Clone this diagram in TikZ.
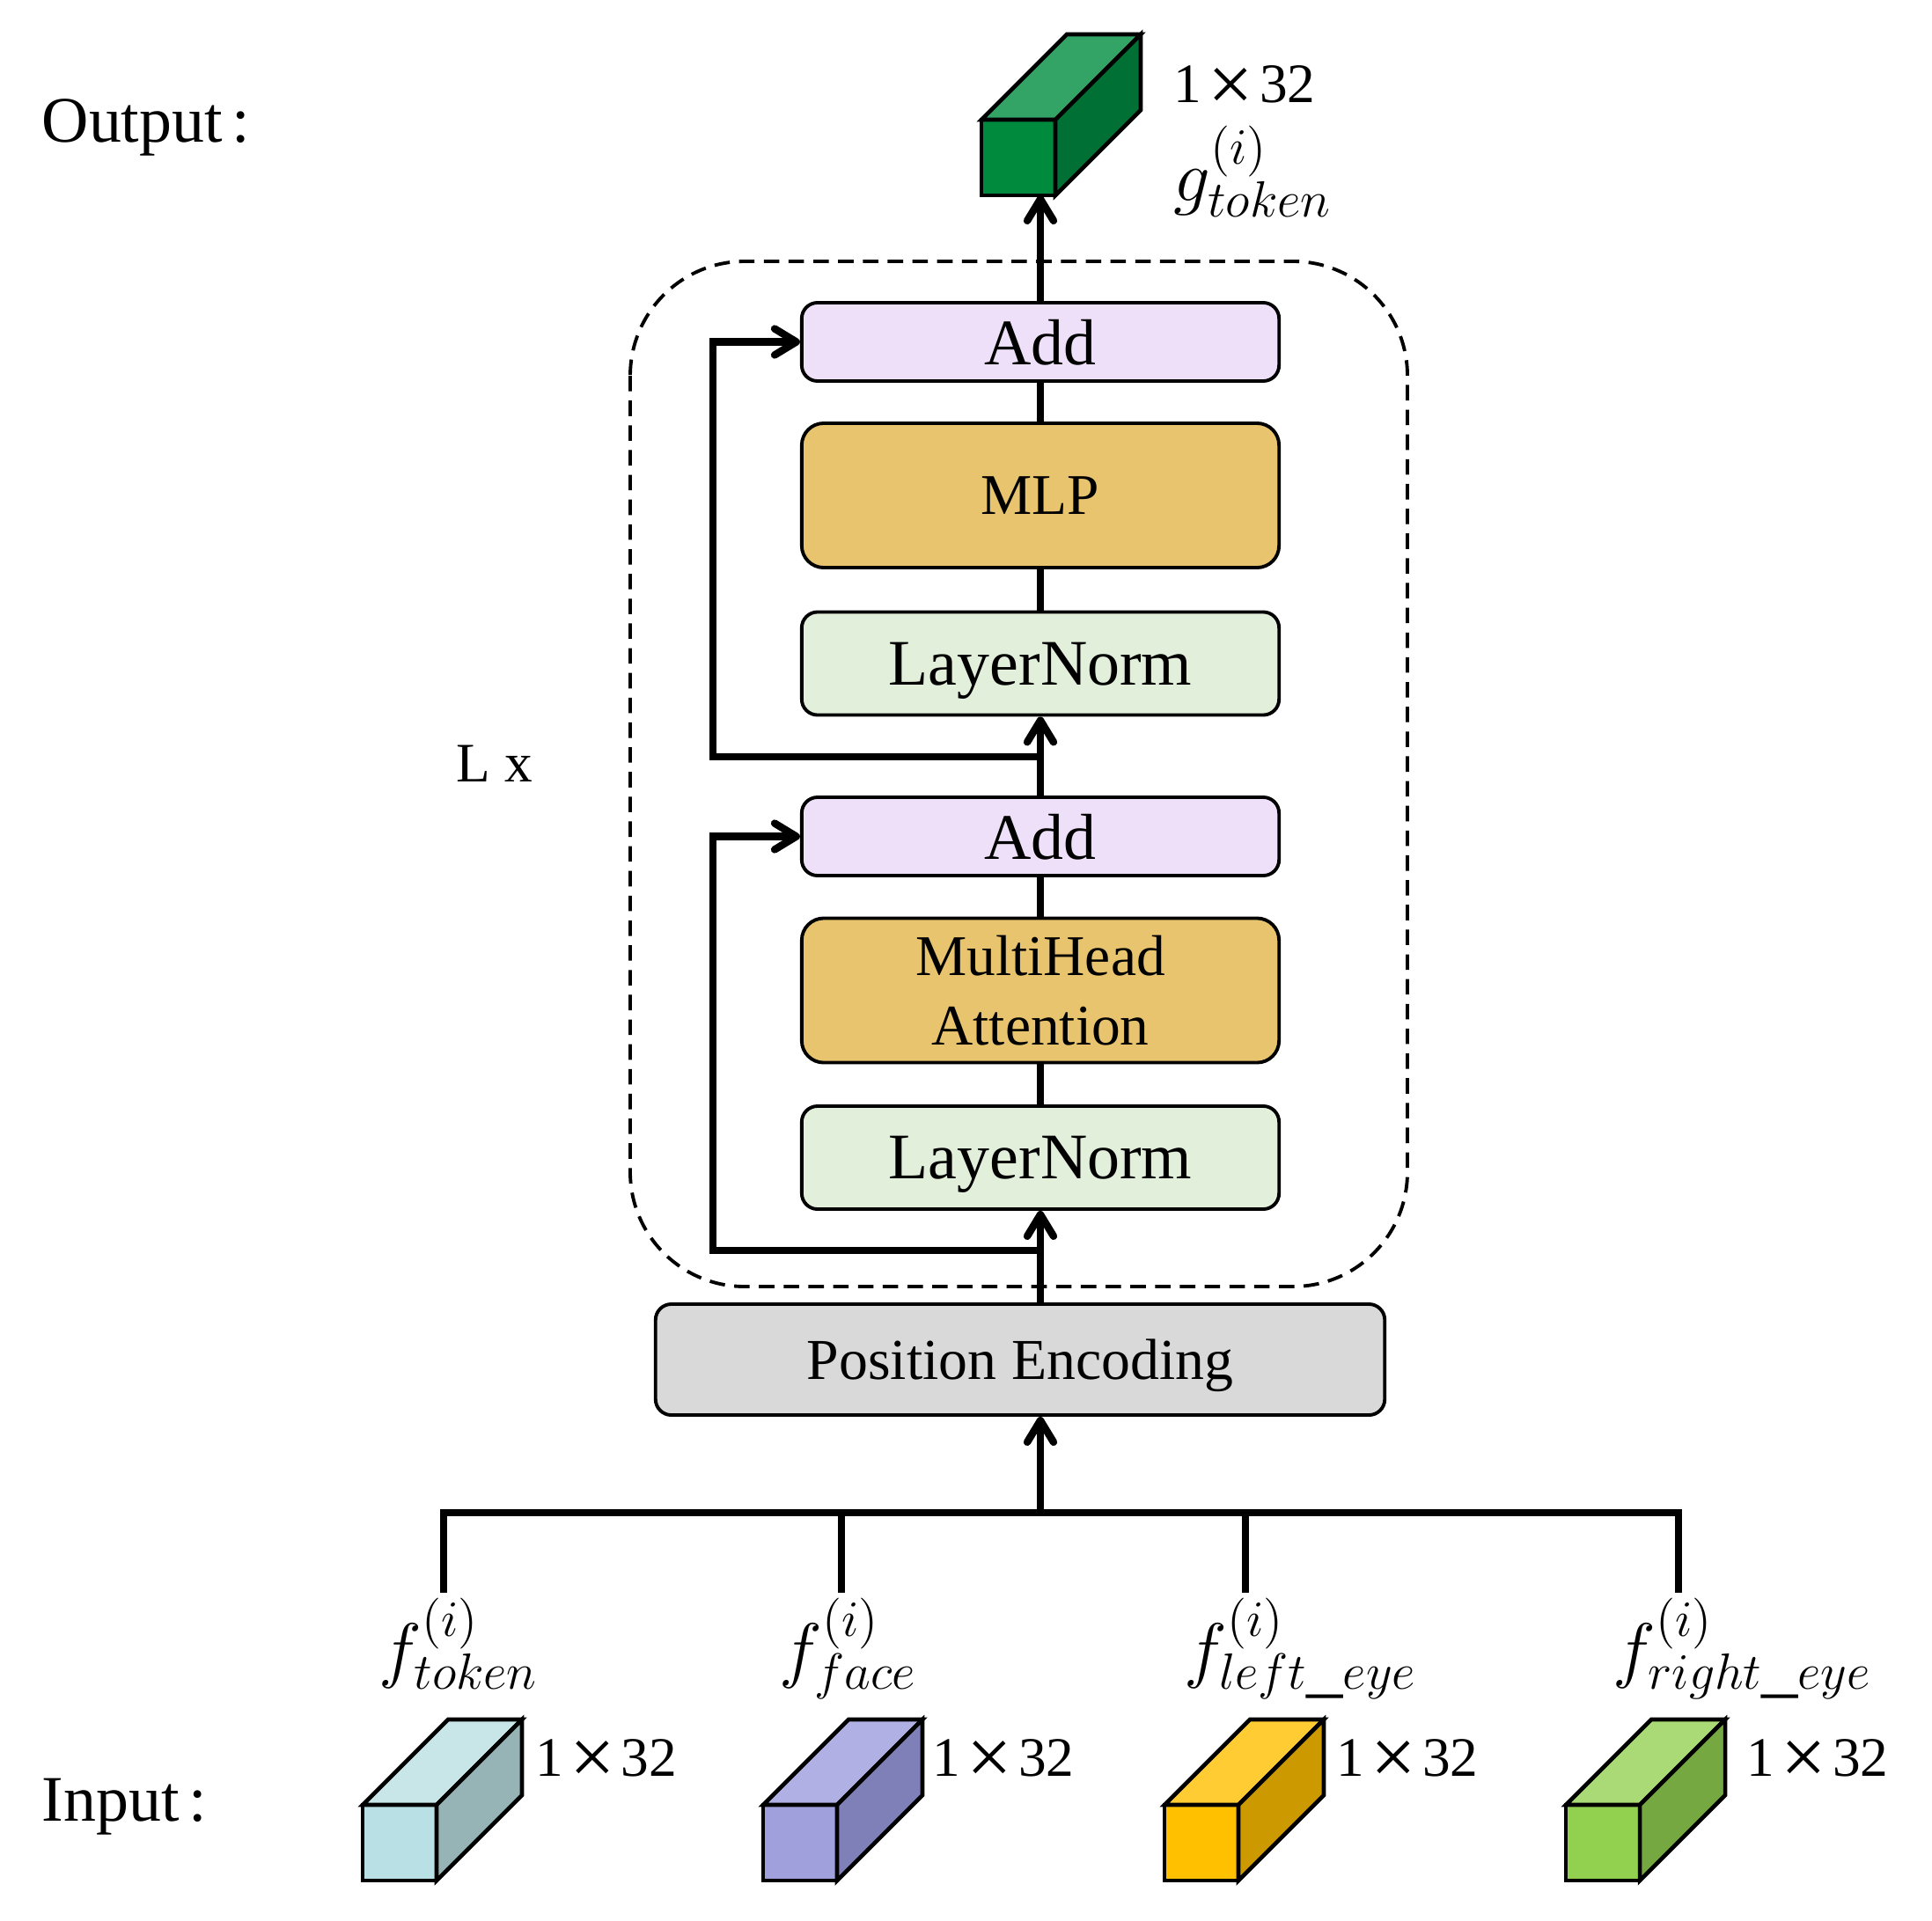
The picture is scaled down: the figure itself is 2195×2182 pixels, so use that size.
\RequirePackage{fix-cm}
\documentclass[tikz,border=0pt]{standalone}
\usepackage{fontspec}
\setmainfont{Liberation Serif}
\usepackage{tikz}
\usetikzlibrary{arrows.meta,positioning,calc}

\definecolor{addcol}{RGB}{238,224,248}
\definecolor{mlpcol}{RGB}{232,196,110}
\definecolor{lncol}{RGB}{226,239,218}
\definecolor{pecol}{RGB}{217,217,217}
\definecolor{outfront}{RGB}{0,138,62}
\definecolor{outtop}{RGB}{52,163,102}
\definecolor{outside}{RGB}{0,112,52}
\definecolor{tokfront}{RGB}{185,224,228}
\definecolor{toktop}{RGB}{200,230,232}
\definecolor{tokside}{RGB}{150,180,182}
\definecolor{facefront}{RGB}{160,160,221}
\definecolor{facetop}{RGB}{176,176,229}
\definecolor{faceside}{RGB}{128,128,184}
\definecolor{lefront}{RGB}{255,192,0}
\definecolor{letop}{RGB}{255,204,51}
\definecolor{leside}{RGB}{204,153,0}
\definecolor{refront}{RGB}{146,208,80}
\definecolor{retop}{RGB}{169,218,117}
\definecolor{reside}{RGB}{117,168,64}

% feature cube: x, y of front face top left, then front/top/side colours
\newcommand{\featcube}[5]{%
  \draw[cubeline,fill=#3] (#1,#2) rectangle ++(84,86);
  \draw[cubeline,fill=#4] (#1,#2) -- ++(97,-97) -- ++(84,0) -- ++(-97,97) -- cycle;
  \draw[cubeline,fill=#5] ({#1+84},#2) -- ++(97,-97) -- ++(0,86) -- ++(-97,97) -- cycle;
}
% 1 x 32 with the wide cross
\newcommand{\featdim}{1\kern2pt\raisebox{-2.6pt}{\fontsize{26}{26}\selectfont ×}\kern2pt32}

\begin{document}
\begin{tikzpicture}[x=0.01cm,y=-0.01cm,
    box/.style={draw,line width=1.1pt,rounded corners=0.18cm,minimum width=5.42cm,inner sep=0pt,text depth=0pt},
    addbox/.style={box,fill=addcol,minimum height=0.89cm,font=\fontsize{21}{25}\selectfont},
    mlpbox/.style={box,fill=mlpcol,minimum height=1.64cm,rounded corners=0.25cm,align=center,font=\fontsize{18.6}{22.5}\selectfont},
    lnbox/.style={box,fill=lncol,minimum height=1.17cm,font=\fontsize{21}{25}\selectfont},
    pebox/.style={box,fill=pecol,minimum width=8.28cm,minimum height=1.26cm,font=\fontsize{18.7}{22}\selectfont},
    link/.style={line width=2.4pt},
    arr/.style={link,-{Straight Barb[length=7pt,width=8.5pt,round]}},
    dashbox/.style={line width=1.1pt,dash pattern=on 5pt off 3pt,rounded corners=1.3cm},
    cubeline/.style={line width=1.3pt,line join=miter},
    dimtext/.style={anchor=base west,inner sep=0pt,font=\fontsize{18}{20}\selectfont},
    symtext/.style={anchor=base west,inner sep=0pt,font=\fontsize{21}{25}\selectfont},
    mathtext/.style={anchor=base west,inner sep=0pt,font=\fontsize{23.5}{27}\selectfont}]
  \useasboundingbox (0,0) rectangle (2195,2182);

  % encoder block
  \draw[dashbox] (716,297) rectangle (1599,1462);
  \node[addbox] (add2) at (1182,388.5) {Add};
  \node[mlpbox] (mlp) at (1182,563) {MLP};
  \node[lnbox] (ln2) at (1182,754) {LayerNorm};
  \node[addbox] (add1) at (1182,950.5) {Add};
  \node[mlpbox] (mha) at (1182,1125.5) {MultiHead\\Attention};
  \node[lnbox] (ln1) at (1182,1315.5) {LayerNorm};
  \node[pebox] (pe) at (1159,1545) {Position Encoding};
  \node[symtext,font=\fontsize{18}{20}\selectfont] (rep) at (518,888) {L x};

  % main path
  \draw[arr] (ln1.south |- pe.north) -- (ln1.south);
  \draw[link] (ln1.north) -- (mha.south);
  \draw[link] (mha.north) -- (add1.south);
  \draw[arr] (add1.north) -- (ln2.south);
  \draw[link] (ln2.north) -- (mlp.south);
  \draw[link] (mlp.north) -- (add2.south);

  % residual connections
  \coordinate (skx) at (810,0);
  \coordinate (sk1) at (1182,1421);
  \coordinate (sk2) at (1182,860);
  \draw[arr] (sk1) -- (sk1 -| skx) |- (add1.west);
  \draw[arr] (sk2) -- (sk2 -| skx) |- (add2.west);

  % output
  \node[symtext] (outlbl) at (47,162) {Output\kern3pt:};
  \featcube{1115}{136}{outfront}{outtop}{outside}
  \coordinate (gout) at (1182,222);
  \draw[arr] (add2.north) -- (gout);
  \node[dimtext] (outdim) at (1333,117) {\featdim};
  \node[mathtext] (gtok) at (1333,229) {$g^{(i)}_{token}$};

  % inputs
  \coordinate (bus) at (1182,1719);
  \coordinate (d1) at (504,1810);
  \coordinate (d2) at (956,1810);
  \coordinate (d3) at (1415,1810);
  \coordinate (d4) at (1907,1810);
  \draw[arr] (bus) -- (ln1.south |- pe.south);
  \draw[link] (d1) |- (bus) -| (d4);
  \draw[link] (d2) -- (d2 |- bus);
  \draw[link] (d3) -- (d3 |- bus);

  \node[mathtext] (ftok) at (430,1902) {$f^{(i)}_{token}$};
  \node[mathtext] (fface) at (885,1902) {$f^{(i)}_{face}$};
  \node[mathtext] (fleft) at (1345,1902) {$f^{(i)}_{left\_eye}$};
  \node[mathtext] (fright) at (1832,1902) {$f^{(i)}_{right\_eye}$};

  \featcube{412}{2051}{tokfront}{toktop}{tokside}
  \featcube{867}{2051}{facefront}{facetop}{faceside}
  \featcube{1323}{2051}{lefront}{letop}{leside}
  \featcube{1779}{2051}{refront}{retop}{reside}
  \node[dimtext] (dim1) at (608,2018) {\featdim};
  \node[dimtext] (dim2) at (1059,2018) {\featdim};
  \node[dimtext] (dim3) at (1518,2018) {\featdim};
  \node[dimtext] (dim4) at (1984,2018) {\featdim};
  \node[symtext] (inlbl) at (47,2069) {Input\kern3pt:};
\end{tikzpicture}
\end{document}
